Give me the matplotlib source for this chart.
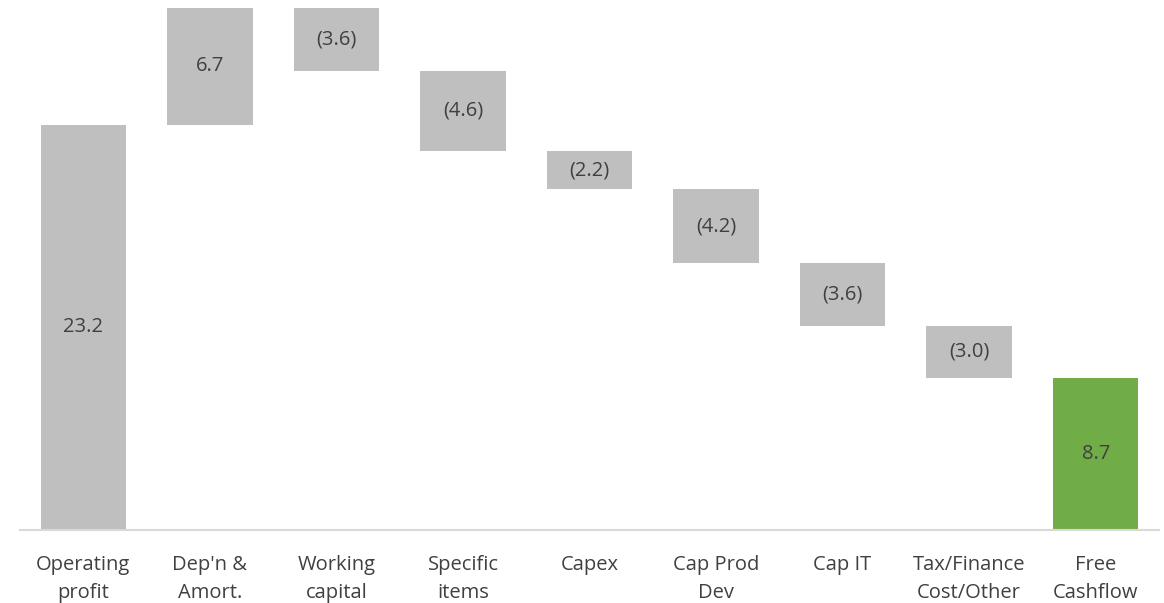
import matplotlib
matplotlib.use('Agg')
import matplotlib.pyplot as plt
import numpy as np

categories = ["Operating\nprofit", "Dep'n &\nAmort.", "Working\ncapital", "Specific\nitems",
              "Capex", "Cap Prod\nDev", "Cap IT", "Tax/Finance\nCost/Other", "Free\nCashflow"]
# first is the starting total, last is the resulting total, the rest are movements
values = [23.2, 6.7, -3.6, -4.6, -2.2, -4.2, -3.6, -3.0, 8.7]

GREY = '#BFBFBF'
GREEN = '#70AD47'
TEXT = '#404040'

plt.rcParams['font.family'] = ['Open Sans', 'DejaVu Sans']

fig = plt.figure(figsize=(11.64, 6.03), dpi=100)
ax = fig.add_axes([20 / 1164, 73 / 603, 1139 / 1164, 530 / 603])

x = np.arange(len(values))
bottoms = []
heights = []
running = 0.0
for i, v in enumerate(values):
    if i == 0 or i == len(values) - 1:
        bottoms.append(0.0)
        heights.append(v)
        running = v
    else:
        bottoms.append(min(running, running + v))
        heights.append(abs(v))
        running += v

colors = [GREY] * (len(values) - 1) + [GREEN]
ax.bar(x, heights, bottom=bottoms, width=0.675, color=colors, zorder=2)

for xi, b, h, v in zip(x, bottoms, heights, values):
    label = f"{v:.1f}" if v >= 0 else f"({abs(v):.1f})"
    ax.text(xi, b + h / 2, label, ha='center', va='center', fontsize=14.5, color=TEXT)

ax.set_xlim(-0.5, len(values) - 0.5)
ax.set_ylim(0, 30.34)
ax.set_xticks(x)
ax.set_xticklabels(categories, fontsize=14.5, color=TEXT, linespacing=1.55)
ax.tick_params(axis='x', length=0, pad=18)
ax.set_yticks([])
for side in ['top', 'left', 'right']:
    ax.spines[side].set_visible(False)
ax.spines['bottom'].set_color('#D9D9D9')
ax.spines['bottom'].set_linewidth(1.5)

fig.savefig('out.png', dpi=100)
